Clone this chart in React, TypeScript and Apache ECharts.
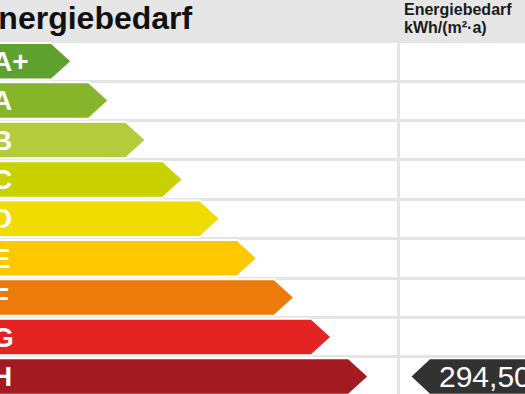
import React, { useEffect, useRef } from "react";
import * as echarts from "echarts";

// Efficiency classes, top (best) to bottom (worst)
const classes = ["A+", "A", "B", "C", "D", "E", "F", "G", "H"];
// Arrow length of each class, in scale steps
const barLengths = [1, 2, 3, 4, 5, 6, 7, 8, 9];
const classColors = [
  "#5fa12f",
  "#86b42a",
  "#b4cb3b",
  "#c9d200",
  "#f0dc00",
  "#fdc800",
  "#ed7b0b",
  "#e32423",
  "#a31b21",
];
// Measured demand and the class it falls into
const energyValue = 294.5;
const energyClass = "H";
const titleText = "Energiebedarf";
const columnTitle = ["Energiebedarf", "kWh/(m²·a)"];

const FONT = '"Liberation Sans", Arial, sans-serif';
const GRID_TOP = 41.5;
const ROW_H = 39.4;

const formatDe = (v: number) => v.toFixed(2).replace(".", ",");

export default function App() {
  const ref = useRef<HTMLDivElement>(null);

  useEffect(() => {
    if (!ref.current) return;
    const chart = echarts.init(ref.current, undefined, { renderer: "svg" });

    const gridHeight = ROW_H * classes.length;

    const option: any = {
      animation: false,
      backgroundColor: "#ffffff",
      grid: [
        {
          left: 33,
          top: GRID_TOP,
          width: 371.25,
          height: gridHeight,
          containLabel: false,
          outerBoundsMode: "none",
        },
        {
          left: 0,
          right: 0,
          top: GRID_TOP,
          height: gridHeight,
          containLabel: false,
          outerBoundsMode: "none",
        },
      ],
      xAxis: [
        { gridIndex: 0, type: "value", min: 0, max: 10, show: false },
        { gridIndex: 1, type: "value", min: 0, max: 1, show: false },
      ],
      yAxis: [
        {
          gridIndex: 0,
          type: "category",
          data: classes,
          inverse: true,
          z: 10,
          axisLine: { show: false },
          axisTick: { show: false },
          splitLine: { show: false },
          axisLabel: {
            show: true,
            interval: 0,
            margin: 41,
            align: "left",
            color: "#ffffff",
            fontSize: 28,
            fontWeight: "bold",
            fontFamily: FONT,
          },
        },
        {
          gridIndex: 1,
          type: "category",
          data: classes,
          inverse: true,
          axisLine: { show: false },
          axisTick: { show: false },
          axisLabel: { show: false },
          splitLine: {
            show: true,
            interval: 0,
            lineStyle: { color: "#e4e4e4", width: 3 },
          },
        },
      ],
      graphic: {
        elements: [
          {
            type: "rect",
            shape: { x: 0, y: 0, width: 525, height: GRID_TOP },
            style: { fill: "#e6e6e6" },
          },
          {
            type: "rect",
            shape: { x: 397, y: GRID_TOP, width: 3, height: 400 },
            style: { fill: "#e4e4e4" },
          },
          {
            type: "text",
            x: -23,
            y: 18.4,
            style: {
              text: titleText,
              fill: "#111111",
              fontSize: 32,
              fontWeight: "bold",
              fontFamily: FONT,
              textVerticalAlign: "middle",
              verticalAlign: "middle",
            },
          },
          {
            type: "text",
            x: 404,
            y: 9,
            style: {
              text: columnTitle[0],
              fill: "#1a1a1a",
              fontSize: 16,
              fontWeight: "bold",
              fontFamily: FONT,
              textVerticalAlign: "middle",
              verticalAlign: "middle",
            },
          },
          {
            type: "text",
            x: 404,
            y: 27.5,
            style: {
              text: columnTitle[1],
              fill: "#1a1a1a",
              fontSize: 16,
              fontWeight: "bold",
              fontFamily: FONT,
              textVerticalAlign: "middle",
              verticalAlign: "middle",
            },
          },
        ],
      },
      series: [
        {
          // class arrows
          type: "custom",
          xAxisIndex: 0,
          yAxisIndex: 0,
          z: 2,
          data: classes.map((c, i) => [barLengths[i], c]),
          encode: { x: 0, y: 1 },
          renderItem: (params: any, api: any) => {
            const idx = params.dataIndex;
            const [tipX, cy] = api.coord([api.value(0), api.value(1)]);
            const half = (api.size([0, 1])[1] * 0.875) / 2;
            const depth = 19;
            const left = -6;
            const pts = [
              [left, cy - half],
              [tipX - depth, cy - half],
              [tipX, cy],
              [tipX - depth, cy + half],
              [left, cy + half],
            ];
            return {
              type: "group",
              children: [
                {
                  type: "polygon",
                  shape: { points: pts },
                  style: { fill: "#ffffff", stroke: "#ffffff", lineWidth: 4, lineJoin: "miter" },
                },
                {
                  type: "polygon",
                  shape: { points: pts },
                  style: { fill: classColors[idx] },
                },
              ],
            };
          },
        },
        {
          // value marker in the right-hand column
          type: "custom",
          xAxisIndex: 1,
          yAxisIndex: 1,
          z: 3,
          data: [[energyClass, energyValue]],
          encode: { y: 0 },
          renderItem: (params: any, api: any) => {
            const cy = api.coord([0, api.value(0)])[1];
            const half = (api.size([0, 1])[1] * 0.875) / 2;
            const tipX = 411.5;
            const depth = 18.5;
            const pts = [
              [tipX, cy],
              [tipX + depth, cy - half],
              [540, cy - half],
              [540, cy + half],
              [tipX + depth, cy + half],
            ];
            return {
              type: "group",
              children: [
                {
                  type: "polygon",
                  shape: { points: pts },
                  style: { fill: "#323232" },
                },
                {
                  type: "text",
                  x: 439,
                  y: cy,
                  style: {
                    text: formatDe(api.value(1)),
                    fill: "#ffffff",
                    fontSize: 30,
                    fontFamily: FONT,
                    textVerticalAlign: "middle",
                    verticalAlign: "middle",
                  },
                },
              ],
            };
          },
        },
      ],
    };

    chart.setOption(option);
    return () => chart.dispose();
  }, []);

  return (
    <div
      ref={ref}
      style={{ position: "fixed", left: 0, top: 0, width: 525, height: 394 }}
    />
  );
}
